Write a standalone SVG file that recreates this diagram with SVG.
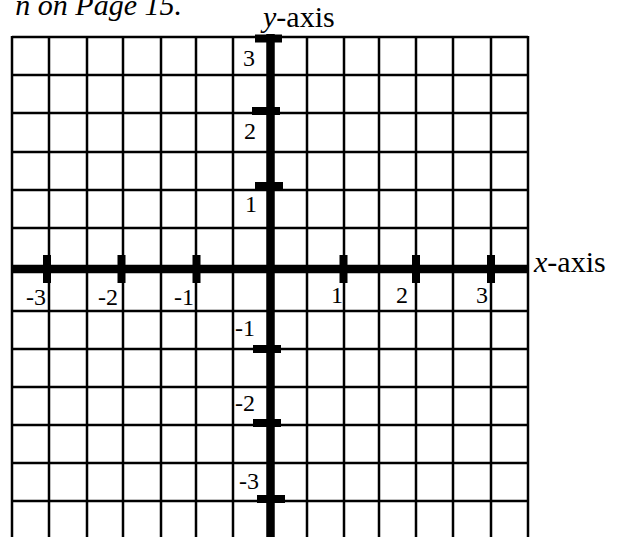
<svg xmlns="http://www.w3.org/2000/svg" width="627" height="537" viewBox="0 0 627 537">
<style>
.grid line{stroke:#000;stroke-width:2.5}
.axis{stroke:#000;stroke-width:8.5;fill:none}
.tick{fill:#000}
.lbl{font-family:"Liberation Serif","Times New Roman",serif;font-size:24px;fill:#000}
.ax{font-family:"Liberation Serif","Times New Roman",serif;font-size:30px;fill:#000}
.it{font-style:italic}
</style>
<rect width="627" height="537" fill="#fff"/>
<text id="heading" class="ax it" x="182" y="15" text-anchor="end" font-size="32">n on Page 15.</text>
<g id="grid" class="grid">
<line x1="12" y1="37" x2="528" y2="37"/>
<line x1="12" y1="75" x2="528" y2="75"/>
<line x1="12" y1="113" x2="528" y2="113"/>
<line x1="12" y1="152" x2="528" y2="152"/>
<line x1="12" y1="190" x2="528" y2="190"/>
<line x1="12" y1="228" x2="528" y2="228"/>
<line x1="12" y1="311" x2="528" y2="311"/>
<line x1="12" y1="349" x2="528" y2="349"/>
<line x1="12" y1="387" x2="528" y2="387"/>
<line x1="12" y1="425" x2="528" y2="425"/>
<line x1="12" y1="463" x2="528" y2="463"/>
<line x1="12" y1="501" x2="528" y2="501"/>
<line x1="12" y1="36" x2="12" y2="537"/>
<line x1="49" y1="36" x2="49" y2="537"/>
<line x1="87" y1="36" x2="87" y2="537"/>
<line x1="123" y1="36" x2="123" y2="537"/>
<line x1="161" y1="36" x2="161" y2="537"/>
<line x1="196" y1="36" x2="196" y2="537"/>
<line x1="233" y1="36" x2="233" y2="537"/>
<line x1="307" y1="36" x2="307" y2="537"/>
<line x1="344" y1="36" x2="344" y2="537"/>
<line x1="379" y1="36" x2="379" y2="537"/>
<line x1="416" y1="36" x2="416" y2="537"/>
<line x1="453" y1="36" x2="453" y2="537"/>
<line x1="491" y1="36" x2="491" y2="537"/>
<line x1="528" y1="36" x2="528" y2="537"/>
</g>
<g id="x-axis">
<line class="axis" x1="12" y1="269" x2="528" y2="269"/>
<rect class="tick" x="43" y="255" width="8" height="28"/>
<rect class="tick" x="117.5" y="255" width="8" height="28"/>
<rect class="tick" x="192.5" y="255" width="8" height="28"/>
<rect class="tick" x="339.5" y="255" width="8" height="28"/>
<rect class="tick" x="412" y="255" width="8" height="28"/>
<rect class="tick" x="487" y="255" width="8" height="28"/>
<text class="ax" x="534" y="272"><tspan class="it">x</tspan>-axis</text>
</g>
<g id="y-axis">
<line class="axis" x1="270.5" y1="34" x2="270.5" y2="537"/>
<rect class="tick" x="255" y="34.5" width="27" height="8"/>
<rect class="tick" x="252" y="107" width="28" height="8"/>
<rect class="tick" x="255" y="182" width="28" height="8"/>
<rect class="tick" x="253" y="345" width="28" height="8"/>
<rect class="tick" x="253" y="419" width="28" height="8"/>
<rect class="tick" x="257" y="495" width="28" height="8"/>
<text class="ax" x="263" y="27"><tspan class="it">y</tspan>-axis</text>
</g>
<g id="x-labels">
<text class="lbl" x="26" y="305">-3</text>
<text class="lbl" x="98" y="305">-2</text>
<text class="lbl" x="174" y="305">-1</text>
<text class="lbl" x="331" y="303">1</text>
<text class="lbl" x="396" y="303">2</text>
<text class="lbl" x="476" y="303">3</text>
</g>
<g id="y-labels">
<text class="lbl" x="243" y="66">3</text>
<text class="lbl" x="244" y="139">2</text>
<text class="lbl" x="245" y="212">1</text>
<text class="lbl" x="235" y="336">-1</text>
<text class="lbl" x="235" y="411">-2</text>
<text class="lbl" x="239" y="489">-3</text>
</g>
</svg>
